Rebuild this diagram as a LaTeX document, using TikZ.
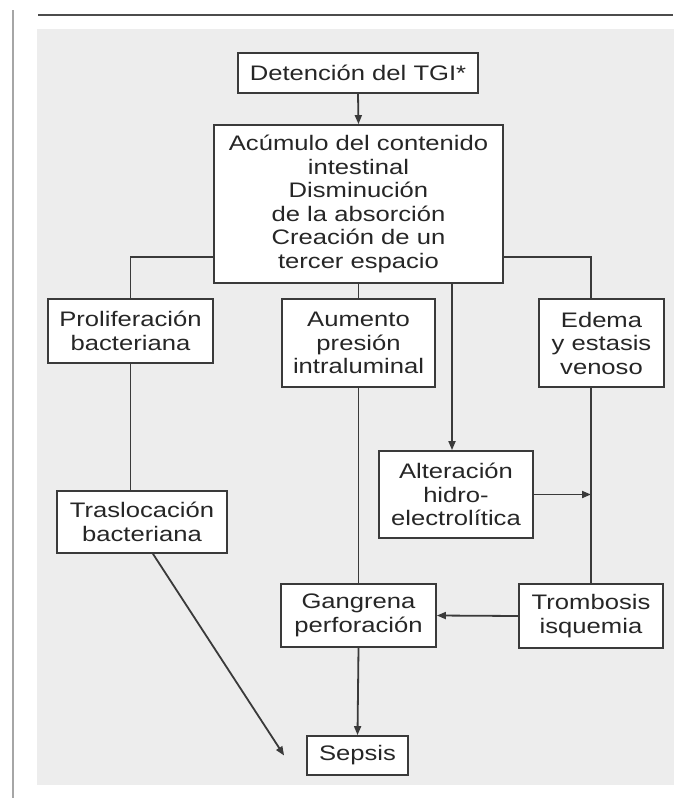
\documentclass[tikz,border=0pt]{standalone}
\usepackage{fontspec}
\setmainfont[FakeStretch=1.22]{Liberation Sans}
\usetikzlibrary{arrows.meta}
\definecolor{panel}{HTML}{EDEDED}
\definecolor{ink}{HTML}{3A3A3A}

\begin{document}
\begin{tikzpicture}[x=1pt, y=1pt,
  box/.style = {draw=ink, fill=white, line width=1.8pt, align=center,
    inner sep=0pt, font=\fontsize{21}{23.5}\selectfont, text=black!85},
  link/.style = {draw=ink, line width=1.8pt},
  arr/.style = {link, -{Triangle[length=9pt,width=7pt]}}
  ]
  \useasboundingbox (0,0) rectangle (686,-798);
  \fill[panel] (37,-29) rectangle (674,-785);
  \draw[black!35, line width=2pt] (13,-10) -- (13,-798);
  \draw[black!70, line width=1.6pt] (38,-15) -- (673,-15);

  \node[box, minimum width=240pt, minimum height=40pt] (det) at (358,-73)
    {Detención del TGI*};
  \node[box, minimum width=289pt, minimum height=158pt] (acu) at (358.5,-204)
    {Acúmulo del contenido\\intestinal\\Disminución\\de la absorción\\Creación de un\\tercer espacio};
  \node[box, minimum width=165pt, minimum height=64pt] (pro) at (130.5,-331)
    {Proliferación\\bacteriana};
  \node[box, minimum width=153pt, minimum height=88pt] (aum) at (358.5,-343)
    {Aumento\\presión\\intraluminal};
  \node[box, minimum width=125pt, minimum height=88pt] (ede) at (601.5,-343)
    {Edema\\y estasis\\venoso};
  \node[box, minimum width=154pt, minimum height=87pt] (alt) at (456,-494.5)
    {Alteración\\hidro-\\electrolítica};
  \node[box, minimum width=170pt, minimum height=62pt] (tra) at (142,-522)
    {Traslocación\\bacteriana};
  \node[box, minimum width=155pt, minimum height=63pt] (gan) at (358.5,-615.5)
    {Gangrena\\perforación};
  \node[box, minimum width=144pt, minimum height=64pt] (tro) at (591,-616)
    {Trombosis\\isquemia};
  \node[box, minimum width=101pt, minimum height=39pt] (sep) at (357.5,-755.5)
    {Sepsis};

  % branches of the big box
  \draw[arr] (det.south) -- (acu.north);
  \draw[link] (acu.south west) ++(0,27) -| (pro.north);
  \draw[link] (acu.south east) ++(0,27) -| (tro.north |- ede.north);
  \draw[link] (acu.south) -- (aum.north);
  \draw[arr] ([xshift=-4pt]alt.north |- acu.south) -- ([xshift=-4pt]alt.north);

  % columns
  \draw[link] (pro.south) -- (pro.south |- tra.north);
  \draw[link] (aum.south) -- (gan.north);
  \draw[link] (tro.north |- ede.south) -- (tro.north);
  \draw[arr] (alt.east) -- (tro.north |- alt.east);
  \draw[arr] (tro.west) -- (gan.east);
  \draw[arr] (gan.south) -- (sep.north);
  \draw[arr] ([xshift=11pt]tra.south) -- ([xshift=-22pt]sep.west);
\end{tikzpicture}
\end{document}
